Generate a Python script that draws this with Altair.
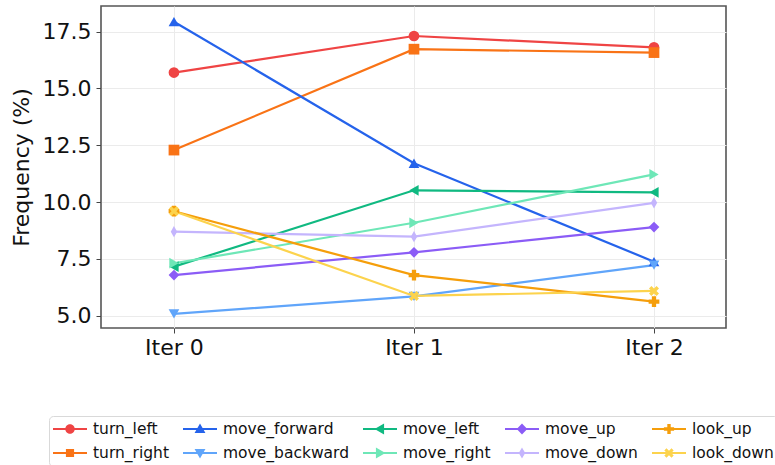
import math
import altair as alt
import pandas as pd

# Action frequencies (%) over three iterations
iterations = [0, 1, 2]
actions = ["turn_left", "turn_right", "move_forward", "move_backward", "move_left",
           "move_right", "move_up", "move_down", "look_up", "look_down"]
turn_left = [15.70, 17.31, 16.81]
turn_right = [12.29, 16.73, 16.58]
move_forward = [17.94, 11.71, 7.38]
move_backward = [5.08, 5.85, 7.23]
move_left = [7.16, 10.52, 10.43]
move_right = [7.31, 9.09, 11.22]
move_up = [6.79, 7.79, 8.90]
move_down = [8.70, 8.48, 9.97]
look_up = [9.60, 6.79, 5.62]
look_down = [9.60, 5.87, 6.09]
series = [turn_left, turn_right, move_forward, move_backward, move_left,
          move_right, move_up, move_down, look_up, look_down]

colors = ["#ef4444", "#f97316", "#2563eb", "#60a5fa", "#10b981",
          "#6ee7b7", "#8b5cf6", "#c4b5fd", "#f59e0b", "#fcd34d"]

rows = []
for k, (name, vals) in enumerate(zip(actions, series)):
    for it, v in zip(iterations, vals):
        rows.append({"action": name, "iter": it, "freq": v, "order": k})
df = pd.DataFrame(rows)


def poly(pts):
    """Closed SVG path, wound clockwise on screen so unions fill solidly."""
    area = sum(pts[i][0] * pts[(i + 1) % len(pts)][1] - pts[(i + 1) % len(pts)][0] * pts[i][1]
               for i in range(len(pts)))
    if area < 0:
        pts = pts[::-1]
    return "M" + "L".join(f"{x:.4f},{y:.4f}" for x, y in pts) + "Z"


def circle_pts(r, n=28):
    return [(r * math.cos(2 * math.pi * i / n), r * math.sin(2 * math.pi * i / n)) for i in range(n)]


def plus_pts(L, w):
    return [(-w, -L), (w, -L), (w, -w), (L, -w), (L, w), (w, w), (w, L), (-w, L),
            (-w, w), (-L, w), (-L, -w), (-w, -w)]


def x_pts(L, w):
    s = 1 / math.sqrt(2)
    return [((x - y) * s, (x + y) * s) for x, y in plus_pts(L, w)]


# Marker outlines used inside the legend (line segment + marker, one path each)
def legend_markers():
    t = 0.32
    return [
        circle_pts(0.28),
        [(-0.24, -0.24), (0.24, -0.24), (0.24, 0.24), (-0.24, 0.24)],
        [(0, -t), (t, 0.24), (-t, 0.24)],
        [(0, t), (-t, -0.24), (t, -0.24)],
        [(-t, 0), (0.24, -t), (0.24, t)],
        [(t, 0), (-0.24, t), (-0.24, -t)],
        [(0, -0.33), (0.31, 0), (0, 0.33), (-0.31, 0)],
        [(0, -0.33), (0.19, 0), (0, 0.33), (-0.19, 0)],
        plus_pts(0.3, 0.1),
        x_pts(0.3, 0.09),
    ]


line_seg = poly([(-1, -0.065), (1, -0.065), (1, 0.065), (-1, 0.065)])
legend_shapes = [line_seg + poly(m) for m in legend_markers()]

# Markers on the plotted points
point_shapes = ["circle", "square", "triangle-up", "triangle-down", "triangle-left",
                "triangle-right", "diamond",
                poly([(0, -1.05), (0.6, 0), (0, 1.05), (-0.6, 0)]),
                "cross",
                poly(x_pts(1.0, 0.32))]

x_enc = alt.X("iter:Q", scale=alt.Scale(domain=[-0.304, 2.30], nice=False, zero=False),
              axis=alt.Axis(values=iterations, labelExpr="'Iter ' + datum.value", title=None,
                            labelFontSize=22, labelPadding=4, tickSize=5, grid=True))
y_enc = alt.Y("freq:Q", scale=alt.Scale(domain=[4.46, 18.63], nice=False, zero=False),
              axis=alt.Axis(values=[5, 7.5, 10, 12.5, 15, 17.5], format=".1f",
                            title="Frequency (%)", titleFontSize=22, titleFontWeight="normal",
                            titlePadding=9, labelFontSize=22, labelPadding=5, tickSize=5,
                            grid=True))

base = alt.Chart(df)

lines = base.mark_line(strokeWidth=2.2).encode(
    x=x_enc, y=y_enc,
    color=alt.Color("action:N", scale=alt.Scale(domain=actions, range=colors), legend=None),
    order="order:Q",
)

points = base.mark_point(filled=True, size=115, opacity=1).encode(
    x=x_enc, y=y_enc,
    color=alt.Color("action:N", scale=alt.Scale(domain=actions, range=colors), legend=None),
    shape=alt.Shape("action:N", scale=alt.Scale(domain=actions, range=point_shapes), legend=None),
    order="order:Q",
)

# Legend entries run down each column (two rows, five columns)
leg = dict(orient="none", legendX=-52, legendY=410, columns=5, title=None,
           symbolSize=1156, symbolStrokeWidth=0, symbolOpacity=1,
           labelFontSize=15.5, labelFont="DejaVu Sans", labelColor="#111111",
           labelOffset=6, labelLimit=400, columnPadding=14, rowPadding=6,
           clipHeight=18, padding=4, strokeColor="#d9d9d9", cornerRadius=4,
           fillColor="white")

legend_layer = base.transform_filter("false").mark_point(filled=True, opacity=1).encode(
    x=x_enc, y=y_enc,
    color=alt.Color("action:N", scale=alt.Scale(domain=actions, range=colors),
                    legend=alt.Legend(**leg)),
    shape=alt.Shape("action:N", scale=alt.Scale(domain=actions, range=legend_shapes),
                    legend=alt.Legend(**leg)),
)

chart = alt.layer(lines, points, legend_layer).resolve_scale(
    color="independent", shape="independent"
).properties(
    width=625, height=322,
    autosize=alt.AutoSizeParams(type="none"),
    padding={"left": 101, "top": 6, "right": 49, "bottom": 137},
).configure(
    font="DejaVu Sans",
    background="white",
).configure_view(
    stroke="#555555", strokeWidth=1.6,
).configure_axis(
    domain=False, gridColor="#ebebeb", gridWidth=1, tickColor="#444444",
    labelColor="#111111", titleColor="#111111", labelFont="DejaVu Sans", titleFont="DejaVu Sans",
)

chart.save("out.html", embed_options={"renderer": "svg", "actions": False})
